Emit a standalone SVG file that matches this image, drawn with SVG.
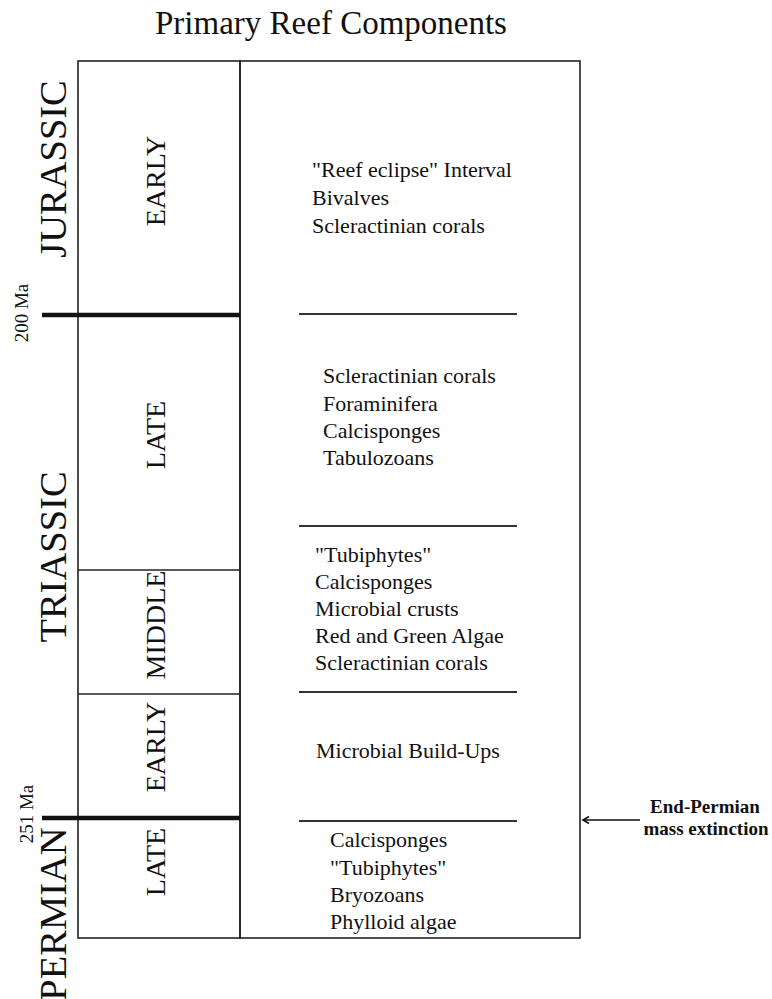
<svg xmlns="http://www.w3.org/2000/svg" width="772" height="999" viewBox="0 0 772 999">
<style>
text{font-family:"Liberation Serif","Times New Roman",serif;fill:#111}
.thin{stroke:#222;stroke-width:1.6;fill:none}
.thick{stroke:#111;stroke-width:4.5}
.sep{stroke:#333;stroke-width:1.8}
.per{font-size:38.5px;text-anchor:middle}
.sub{font-size:28px;text-anchor:middle}
.ma{font-size:19px;text-anchor:middle}
.list{font-size:22px}
.note{font-size:19px;font-weight:bold;text-anchor:middle}
</style>
<defs>
<marker id="ah" markerWidth="10" markerHeight="10" refX="8" refY="5" orient="auto" markerUnits="userSpaceOnUse">
<path d="M2,1.5 L8,5 L2,8.5" fill="none" stroke="#111" stroke-width="1.6"/>
</marker>
</defs>
<text x="331" y="34" font-size="33" text-anchor="middle">Primary Reef Components</text>
<g id="frame">
<rect class="thin" x="78" y="61" width="162" height="877"/>
<rect class="thin" x="240" y="61" width="340" height="877"/>
<line class="thin" x1="78" y1="570" x2="240" y2="570"/>
<line class="thin" x1="78" y1="694" x2="240" y2="694"/>
<line class="thick" x1="42" y1="315" x2="240" y2="315"/>
<line class="thick" x1="42" y1="818" x2="240" y2="818"/>
</g>
<g id="periods">
<text class="per" transform="translate(66,169) rotate(-90)">JURASSIC</text>
<text class="per" transform="translate(66,557) rotate(-90)">TRIASSIC</text>
<text class="per" transform="translate(66,914) rotate(-90)">PERMIAN</text>
<text class="ma" transform="translate(28,313) rotate(-90)">200 Ma</text>
<text class="ma" transform="translate(33,814) rotate(-90)">251 Ma</text>
</g>
<g id="epochs">
<text class="sub" transform="translate(165,181) rotate(-90)">EARLY</text>
<text class="sub" transform="translate(165,435) rotate(-90)">LATE</text>
<text class="sub" transform="translate(165,625) rotate(-90)">MIDDLE</text>
<text class="sub" transform="translate(165,747) rotate(-90)">EARLY</text>
<text class="sub" transform="translate(165,862) rotate(-90)">LATE</text>
</g>
<g id="separators">
<line class="sep" x1="299" y1="314" x2="517" y2="314"/>
<line class="sep" x1="299" y1="526" x2="517" y2="526"/>
<line class="sep" x1="299" y1="692" x2="517" y2="692"/>
<line class="sep" x1="299" y1="821" x2="517" y2="821"/>
</g>
<g id="early-jurassic">
<text class="list" x="312" y="177">"Reef eclipse" Interval</text>
<text class="list" x="312" y="205">Bivalves</text>
<text class="list" x="312" y="233">Scleractinian corals</text>
</g>
<g id="late-triassic">
<text class="list" x="323" y="383">Scleractinian corals</text>
<text class="list" x="323" y="411">Foraminifera</text>
<text class="list" x="323" y="438">Calcisponges</text>
<text class="list" x="323" y="465">Tabulozoans</text>
</g>
<g id="middle-triassic">
<text class="list" x="315" y="562">"Tubiphytes"</text>
<text class="list" x="315" y="589">Calcisponges</text>
<text class="list" x="315" y="616">Microbial crusts</text>
<text class="list" x="315" y="643">Red and Green Algae</text>
<text class="list" x="315" y="670">Scleractinian corals</text>
</g>
<g id="early-triassic">
<text class="list" x="316" y="758">Microbial Build-Ups</text>
</g>
<g id="late-permian">
<text class="list" x="330" y="847">Calcisponges</text>
<text class="list" x="330" y="875">"Tubiphytes"</text>
<text class="list" x="330" y="902">Bryozoans</text>
<text class="list" x="330" y="929">Phylloid algae</text>
</g>
<g id="extinction">
<text class="note" x="705" y="813">End-Permian</text>
<text class="note" x="706" y="835">mass extinction</text>
</g>
<g id="connectors">
<line x1="640" y1="820" x2="583" y2="820" stroke="#111" stroke-width="1.6" marker-end="url(#ah)"/>
</g>
</svg>
